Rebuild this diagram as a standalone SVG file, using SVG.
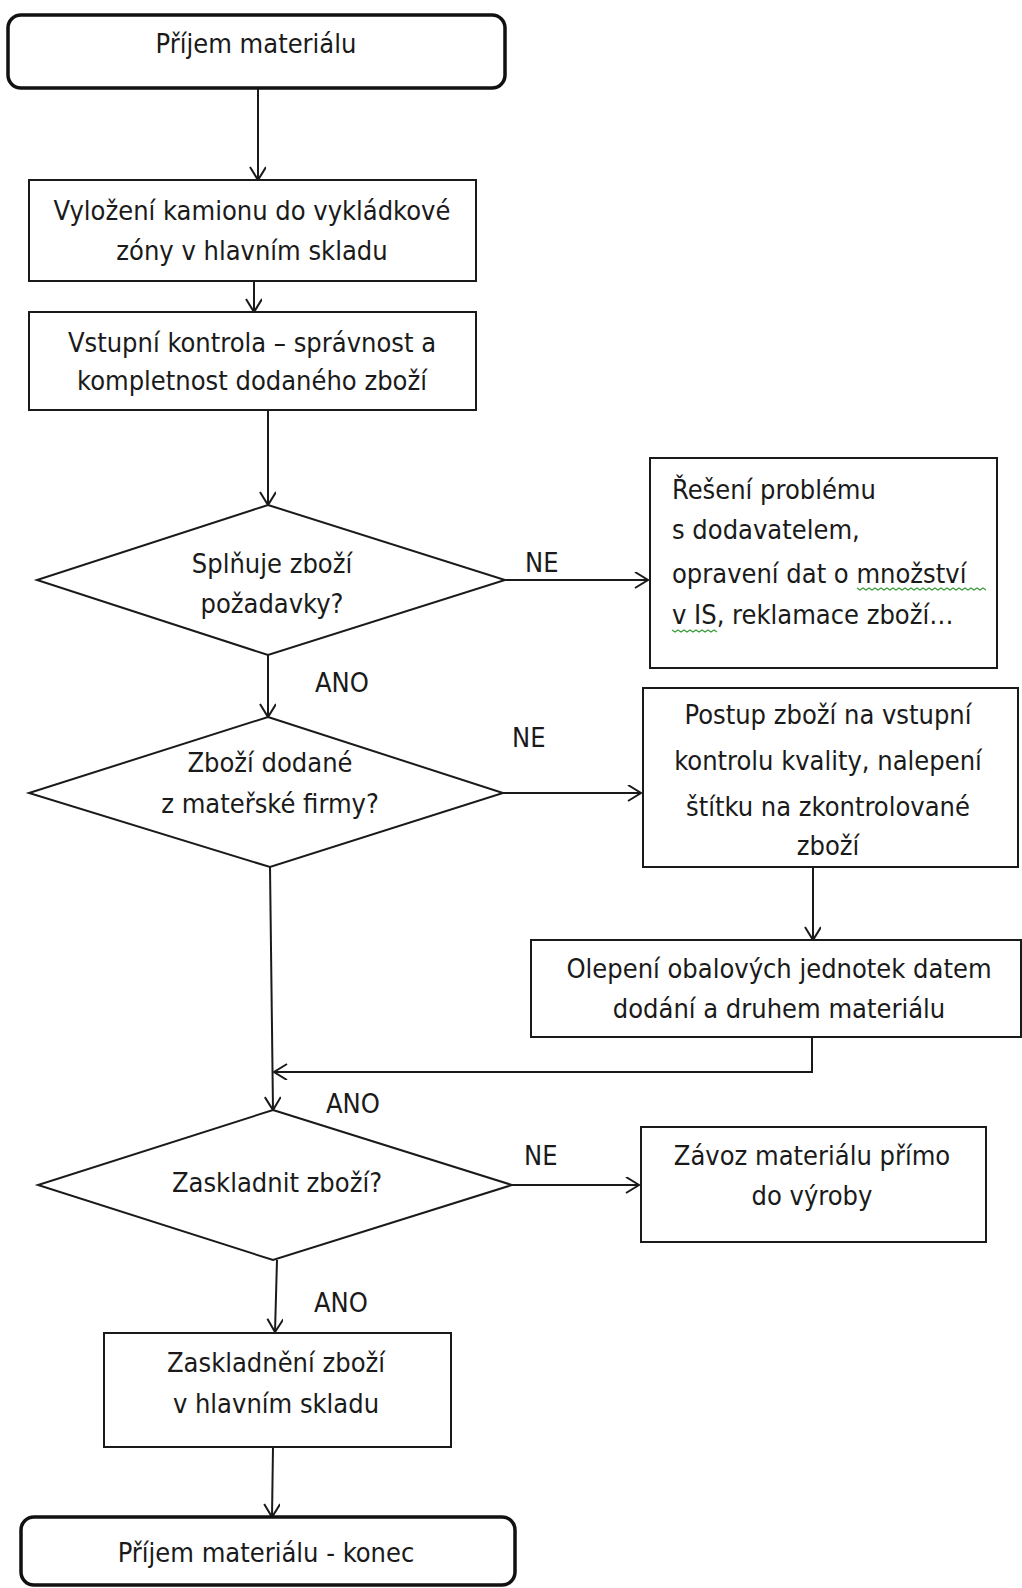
<svg xmlns="http://www.w3.org/2000/svg" width="1022" height="1588" viewBox="0 0 1022 1588">
<style>
.box{fill:#fff;stroke:#1a1a1a;stroke-width:2}
.term{fill:#fff;stroke:#111;stroke-width:3.5}
.t{font-family:"DejaVu Sans Condensed","DejaVu Sans",sans-serif;font-stretch:condensed;font-size:27px;fill:#1a1a1a}
.c{text-anchor:middle}
.con{fill:none;stroke:#1a1a1a;stroke-width:2;marker-end:url(#ah)}
.sq{fill:none;stroke:#3a9a3a;stroke-width:1.2}
</style>
<defs>
<marker id="ah" markerUnits="userSpaceOnUse" markerWidth="20" markerHeight="20" refX="14" refY="8" orient="auto">
<path d="M1,0 L14,8 L1,16" fill="none" stroke="#1a1a1a" stroke-width="2"/>
</marker>
</defs>
<rect width="1022" height="1588" fill="#fff"/>

<g id="connectors">
<path class="con" d="M258,88 L258,180"/>
<path class="con" d="M254,281 L254,312"/>
<path class="con" d="M268,410 L268,505"/>
<path class="con" d="M268,655 L268,717"/>
<path class="con" d="M505,580 L648,580"/>
<path class="con" d="M503,793 L641,793"/>
<path class="con" d="M813,867 L813,940"/>
<path class="con" d="M812,1037 L812,1072 L274,1072"/>
<path class="con" d="M270,867 L273,1110"/>
<path class="con" d="M512,1185 L639,1185"/>
<path class="con" d="M277,1260 L275,1332"/>
<path class="con" d="M273,1447 L272,1517"/>
<text class="t" x="315" y="692">ANO</text>
<text class="t" x="525" y="572">NE</text>
<text class="t" x="512" y="747">NE</text>
<text class="t" x="326" y="1113">ANO</text>
<text class="t" x="524" y="1165">NE</text>
<text class="t" x="314" y="1312">ANO</text>
</g>

<g id="start">
<rect class="term" x="8" y="15" width="497" height="73" rx="13"/>
<text class="t c" x="256" y="53">Příjem materiálu</text>
</g>

<g id="vylozeni">
<rect class="box" x="29" y="180" width="447" height="101"/>
<text class="t c" x="252" y="220">Vyložení kamionu do vykládkové</text>
<text class="t c" x="252" y="260">zóny v hlavním skladu</text>
</g>

<g id="vstupni-kontrola">
<rect class="box" x="29" y="312" width="447" height="98"/>
<text class="t c" x="252" y="352">Vstupní kontrola – správnost a</text>
<text class="t c" x="252" y="390">kompletnost dodaného zboží</text>
</g>

<g id="splnuje">
<polygon class="box" points="268,505 505,580 268,655 37,580"/>
<text class="t c" x="272" y="573">Splňuje zboží</text>
<text class="t c" x="272" y="613">požadavky?</text>
</g>

<g id="reseni">
<rect class="box" x="650" y="458" width="347" height="210"/>
<text class="t" x="672" y="499">Řešení problému</text>
<text class="t" x="672" y="539">s dodavatelem,</text>
<text class="t" x="672" y="583">opravení dat o množství</text>
<text class="t" x="672" y="624">v IS, reklamace zboží…</text>
<path class="sq" d="M857,588 l3,2 3,-2 3,2 3,-2 3,2 3,-2 3,2 3,-2 3,2 3,-2 3,2 3,-2 3,2 3,-2 3,2 3,-2 3,2 3,-2 3,2 3,-2 3,2 3,-2 3,2 3,-2 3,2 3,-2 3,2 3,-2 3,2 3,-2 3,2 3,-2 3,2 3,-2 3,2 3,-2 3,2 3,-2 3,2 3,-2 3,2 3,-2 3,2"/>
<path class="sq" d="M672,630 l3,2 3,-2 3,2 3,-2 3,2 3,-2 3,2 3,-2 3,2 3,-2 3,2 3,-2 3,2 3,-2 3,2"/>
</g>

<g id="materska">
<polygon class="box" points="268,717 503,793 270,867 29,793"/>
<text class="t c" x="270" y="772">Zboží dodané</text>
<text class="t c" x="270" y="813">z mateřské firmy?</text>
</g>

<g id="postup">
<rect class="box" x="643" y="688" width="375" height="179"/>
<text class="t c" x="828" y="724">Postup zboží na vstupní</text>
<text class="t c" x="828" y="770">kontrolu kvality, nalepení</text>
<text class="t c" x="828" y="816">štítku na zkontrolované</text>
<text class="t c" x="828" y="855">zboží</text>
</g>

<g id="olepeni">
<rect class="box" x="531" y="940" width="490" height="97"/>
<text class="t c" x="779" y="978">Olepení obalových jednotek datem</text>
<text class="t c" x="779" y="1018">dodání a druhem materiálu</text>
</g>

<g id="zaskladnit">
<polygon class="box" points="273,1110 512,1185 273,1260 38,1185"/>
<text class="t c" x="277" y="1192">Zaskladnit zboží?</text>
</g>

<g id="zavoz">
<rect class="box" x="641" y="1127" width="345" height="115"/>
<text class="t c" x="812" y="1165">Závoz materiálu přímo</text>
<text class="t c" x="812" y="1205">do výroby</text>
</g>

<g id="zaskladneni">
<rect class="box" x="104" y="1333" width="347" height="114"/>
<text class="t c" x="276" y="1372">Zaskladnění zboží</text>
<text class="t c" x="276" y="1413">v hlavním skladu</text>
</g>

<g id="end">
<rect class="term" x="21" y="1517" width="494" height="68" rx="13"/>
<text class="t c" x="266" y="1562">Příjem materiálu - konec</text>
</g>
</svg>
